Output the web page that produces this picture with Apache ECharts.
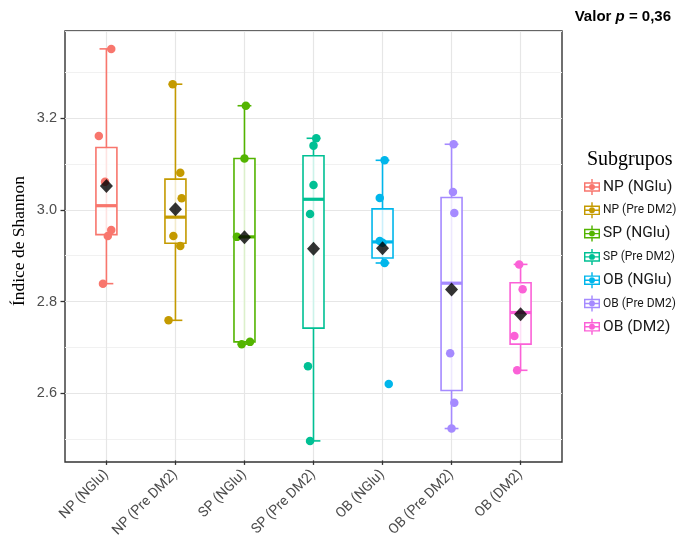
<!DOCTYPE html>
<html><head><meta charset="utf-8">
<script src="https://cdn.jsdelivr.net/npm/echarts@6/dist/echarts.min.js"></script>
<style>html,body{margin:0;padding:0;background:#fff}#c{width:679px;height:540px}</style>
</head><body><div id="c"></div>
<script>
// ---------- data ----------
const categories = ['NP (NGlu)', 'NP (Pre DM2)', 'SP (NGlu)', 'SP (Pre DM2)', 'OB (NGlu)', 'OB (Pre DM2)', 'OB (DM2)'];
const yTickValues = [2.6, 2.8, 3.0, 3.2];
const lowWhisker  = [2.839, 2.759, 2.707, 2.496, 2.884, 2.523, 2.650];
const q1          = [2.946, 2.927, 2.712, 2.742, 2.895, 2.606, 2.707];
const median      = [3.009, 2.984, 2.941, 3.023, 2.930, 2.840, 2.776];
const q3          = [3.136, 3.067, 3.112, 3.118, 3.002, 3.027, 2.841];
const highWhisker = [3.351, 3.274, 3.227, 3.156, 3.108, 3.143, 2.881];
const means       = [3.052, 3.001, 2.940, 2.915, 2.916, 2.826, 2.772];
const pointsNPNGlu  = [3.351, 3.161, 3.061, 2.956, 2.943, 2.839];
const pointsNPPre   = [3.274, 3.081, 3.025, 2.943, 2.921, 2.759];
const pointsSPNGlu  = [3.227, 3.112, 2.941, 2.712, 2.707];
const pointsSPPre   = [3.156, 3.140, 3.054, 2.991, 2.659, 2.496];
const pointsOBNGlu  = [3.108, 3.026, 2.932, 2.928, 2.884, 2.620];
const pointsOBPre   = [3.143, 3.039, 2.993, 2.687, 2.579, 2.523];
const pointsOBDM2   = [2.881, 2.827, 2.725, 2.650];
// horizontal jitter of each point (category units)
const jitterNPNGlu = [0.07, -0.11, -0.02, 0.07, 0.02, -0.05];
const jitterNPPre  = [-0.04, 0.07, 0.09, -0.03, 0.07, -0.10];
const jitterSPNGlu = [0.02, 0.0, -0.11, 0.08, -0.04];
const jitterSPPre  = [0.04, 0.0, 0.0, -0.05, -0.08, -0.05];
const jitterOBNGlu = [0.03, -0.04, -0.04, 0.0, 0.03, 0.09];
const jitterOBPre  = [0.03, 0.02, 0.04, -0.02, 0.04, 0.0];
const jitterOBDM2  = [-0.02, 0.03, -0.09, -0.05];
// ------------------------------------------------
const groupPoints = [pointsNPNGlu, pointsNPPre, pointsSPNGlu, pointsSPPre, pointsOBNGlu, pointsOBPre, pointsOBDM2];
const groupJitter = [jitterNPNGlu, jitterNPPre, jitterSPNGlu, jitterSPPre, jitterOBNGlu, jitterOBPre, jitterOBDM2];
const colors = ['#F8766D', '#C49A00', '#53B400', '#00C094', '#00B6EB', '#A58AFF', '#FB61D7'];
const COND = "Roboto,'Liberation Sans',sans-serif";
const SERIF = "'Liberation Serif','DejaVu Serif',serif";
const T = 'rgba(0,0,0,0)', MAJ = '#e6e6e6', MIN = '#f1f1f1';

const Y_MIN = 2.45, Y_MAX = 3.39;
const PL = 65, PW = 497, PT = 31, PH = 431;
const pxPerUnit = PH / (Y_MAX - Y_MIN);
const bandW = PW / 7.2;

const keyPath = 'path://M0 4H20V16H0Z M1.8 5.8V14.2H18.2V5.8Z M0 9.1H20V10.9H0Z M9.1 0H10.9V4H9.1Z M9.1 16H10.9V20H9.1Z M10 6.3A3.7 3.7 0 1 1 10 13.7A3.7 3.7 0 1 1 10 6.3Z';

const chart = echarts.init(document.getElementById('c'), null, {renderer: 'canvas'});

const series = [];
series.push({
  type: 'custom', xAxisIndex: 0, yAxisIndex: 0, z: 2, silent: true,
  encode: {x: 0, y: [1, 2, 3, 4, 5]},
  data: categories.map((_, k) => [k + 1, lowWhisker[k], q1[k], median[k], q3[k], highWhisker[k]]),
  renderItem(params, api) {
    const i = api.value(0);
    const c = colors[i - 1];
    const lo = api.coord([i, api.value(1)]);
    const b1 = api.coord([i, api.value(2)]);
    const md = api.coord([i, api.value(3)]);
    const b3 = api.coord([i, api.value(4)]);
    const hi = api.coord([i, api.value(5)]);
    const half = api.size([0.152, 0])[0];
    const cap = api.size([0.1, 0])[0];
    const x = lo[0];
    const lw = 1.6;
    return {type: 'group', children: [
      {type: 'line', shape: {x1: x, y1: hi[1], x2: x, y2: lo[1]}, style: {stroke: c, lineWidth: lw}},
      {type: 'line', shape: {x1: x - cap, y1: hi[1], x2: x + cap, y2: hi[1]}, style: {stroke: c, lineWidth: lw}},
      {type: 'line', shape: {x1: x - cap, y1: lo[1], x2: x + cap, y2: lo[1]}, style: {stroke: c, lineWidth: lw}},
      {type: 'rect', shape: {x: x - half, y: b3[1], width: 2 * half, height: b1[1] - b3[1]},
        style: {fill: 'rgba(255,255,255,0.8)', stroke: c, lineWidth: lw}},
      {type: 'line', shape: {x1: x - half, y1: md[1], x2: x + half, y2: md[1]}, style: {stroke: c, lineWidth: 3.2}}
    ]};
  }
});
categories.forEach((name, k) => {
  series.push({
    type: 'scatter', name: name, xAxisIndex: 0, yAxisIndex: 0, z: 3,
    symbol: 'circle', symbolSize: 8.5,
    itemStyle: {color: colors[k], opacity: 1},
    data: groupPoints[k].map((v, j) => [k + 1 + groupJitter[k][j], v])
  });
});
series.push({
  type: 'scatter', name: 'media', xAxisIndex: 0, yAxisIndex: 0, z: 4,
  symbol: 'diamond', symbolSize: [13, 14],
  itemStyle: {color: '#000'},
  data: means.map((v, k) => [k + 1, v])
});

const option = {
  backgroundColor: '#fff',
  animation: false,
  title: [
    {right: 3, top: 4, text: '{b|Valor }{i|p}{b| = 0,36}',
      textStyle: {rich: {
        b: {fontFamily: "'Liberation Sans',Arial,sans-serif", fontWeight: 'bold', fontSize: 15, color: '#000'},
        i: {fontFamily: "'Liberation Sans',Arial,sans-serif", fontWeight: 'bold', fontStyle: 'italic', fontSize: 15, color: '#000'}
      }}},
    {left: 582, top: 145, text: 'Subgrupos',
      textStyle: {fontFamily: SERIF, fontWeight: 'normal', fontSize: 20, color: '#000'}}
  ],
  graphic: [
    {type: 'text', x: 19, y: 241, rotation: Math.PI / 2,
      style: {text: 'Índice de Shannon', font: '17.5px ' + SERIF, fill: '#000', align: 'center', verticalAlign: 'middle'}}
  ],
  legend: {
    orient: 'vertical', left: 584, top: 179, padding: 0, itemWidth: 16, itemHeight: 17, itemGap: 7.3,
    icon: keyPath, selectedMode: false,
    textStyle: {fontFamily: COND, color: '#1a1a1a', fontSize: 15, padding: [0, 0, 0, -2]},
    data: categories.map(n => ({name: n, textStyle: {fontSize: n.indexOf('Pre') >= 0 ? 12 : 15.5, padding: [0, 0, 0, -2]}}))
  },
  grid: [
    {left: PL, top: PT, width: PW, height: PH, show: true, borderColor: '#333', borderWidth: 1.4, backgroundColor: '#fff', z: 0},
    {left: PL + 0.1 * bandW, top: PT, width: 7 * bandW, height: PH},
    {left: PL, top: PT + (Y_MAX - 3.2) * pxPerUnit, width: PW, height: 0.6 * pxPerUnit}
  ],
  xAxis: [
    {gridIndex: 0, type: 'value', min: 0.4, max: 7.6, interval: 0.2,
      axisLine: {show: false}, axisTick: {show: false}, axisLabel: {show: false},
      splitLine: {show: true, lineStyle: {color: [T, T, T, MAJ, T], width: 1.2}}},
    {gridIndex: 1, type: 'category', data: categories, boundaryGap: true,
      axisLine: {show: false},
      axisTick: {show: true, alignWithLabel: true, length: 4.5, lineStyle: {color: '#333', width: 1.3}},
      axisLabel: {rotate: 45, margin: 12, fontFamily: COND, fontSize: 14, color: '#4d4d4d', interval: 0},
      splitLine: {show: false}},
    {gridIndex: 2, type: 'value', show: false, min: 0, max: 1}
  ],
  yAxis: [
    {gridIndex: 0, type: 'value', min: Y_MIN, max: Y_MAX, interval: 0.05,
      axisLine: {show: false}, axisTick: {show: false}, axisLabel: {show: false},
      splitLine: {show: true, lineStyle: {color: [T, MIN, T, MAJ], width: 1.2}}},
    {gridIndex: 1, type: 'value', show: false, min: 0, max: 1, splitLine: {show: false}},
    {gridIndex: 2, type: 'value', min: yTickValues[0], max: yTickValues[yTickValues.length - 1], interval: 0.2,
      axisLine: {show: false},
      axisTick: {show: true, length: 4.5, lineStyle: {color: '#333', width: 1.3}},
      axisLabel: {margin: 8, fontFamily: "'Liberation Sans',Arial,sans-serif", fontSize: 14.5, color: '#4d4d4d',
        formatter: v => v.toFixed(1)},
      splitLine: {show: false}}
  ],
  series: series
};
chart.setOption(option);
</script>
</body></html>
